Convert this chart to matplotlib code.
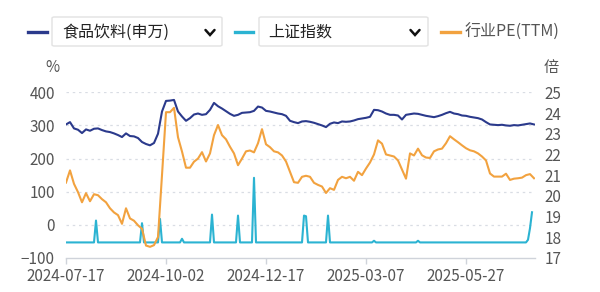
import matplotlib
matplotlib.use("Agg")
import matplotlib.pyplot as plt
from matplotlib.patches import FancyBboxPatch
from matplotlib.lines import Line2D

plt.rcParams['font.family'] = ['Noto Sans CJK SC', 'DejaVu Sans']

# ---- data ----
tick_labels = ["2024-07-17", "2024-10-02", "2024-12-17", "2025-03-07", "2025-05-27"]
tick_index = [0, 25, 50, 75, 100]

# sampled every other trading day
food_bev = [303, 310, 291, 287, 277, 288, 284, 290, 291, 286,
            282, 280, 276, 271, 265, 276, 268, 267, 262, 250,
            244, 240, 247, 275, 342, 374, 375, 377, 342, 327,
            314, 322, 333, 336, 332, 334, 347, 368, 358, 351,
            343, 335, 329, 332, 338, 339, 340, 344, 357, 354,
            344, 342, 339, 336, 334, 329, 314, 310, 307, 312,
            313, 311, 308, 304, 300, 295, 305, 309, 307, 312,
            311, 312, 315, 319, 321, 323, 326, 347, 346, 342,
            336, 332, 332, 330, 318, 332, 334, 336, 335, 332,
            329, 327, 325, 328, 332, 337, 341, 336, 334, 330,
            329, 326, 324, 322, 318, 310, 303, 302, 301, 302,
            300, 299, 301, 300, 302, 304, 306, 303]

pe = [20.64, 21.23, 20.58, 20.18, 19.69, 20.13, 19.74, 20.08, 20.03, 19.84,
      19.69, 19.40, 19.20, 19.07, 18.65, 19.40, 18.91, 18.80, 18.58, 18.41,
      17.60, 17.54, 17.62, 18.01, 21.00, 24.04, 24.04, 24.25, 22.83, 22.14,
      21.36, 21.36, 21.65, 21.80, 22.11, 21.66, 22.05, 22.93, 23.42, 22.93,
      22.73, 22.37, 22.05, 21.48, 21.80, 22.15, 22.19, 22.10, 22.54, 23.22,
      22.49, 22.35, 22.15, 22.10, 21.95, 21.66, 21.16, 20.66, 20.63, 20.92,
      20.97, 20.92, 20.63, 20.53, 20.45, 20.14, 20.37, 20.29, 20.77, 20.92,
      20.85, 20.92, 20.73, 21.16, 21.00, 21.32, 21.61, 22.00, 22.68, 22.52,
      22.00, 21.95, 21.90, 21.71, 21.27, 20.83, 22.05, 21.95, 22.28, 21.96,
      21.85, 21.83, 22.15, 22.24, 22.28, 22.54, 22.88, 22.73, 22.59, 22.44,
      22.30, 22.20, 22.15, 22.05, 21.90, 21.71, 21.08, 20.93, 20.93, 20.93,
      21.07, 20.77, 20.83, 20.85, 20.88, 21.00, 21.05, 20.85]

# every trading day (twice the density of the two series above)
sse = [-53, -53, -53, -53, -53, -53, -53, -53, -53, -53,
       -53, -53, -53, -53, -53, 13, -53, -53, -53, -53,
       -53, -53, -53, -53, -53, -53, -53, -53, -53, -53,
       -53, -53, -53, -53, -53, -53, -53, -53, 5, -53,
       -53, -53, -53, -53, -53, -53, -53, 18, -53, -53,
       -53, -53, -53, -53, -53, -53, -53, -53, -42, -53,
       -53, -53, -53, -53, -53, -53, -53, -53, -53, -53,
       -53, -53, -53, 31, -53, -53, -53, -53, -53, -53,
       -53, -53, -53, -53, -53, -53, 28, -53, -53, -53,
       -53, -53, -53, -53, 142, -53, -53, -53, -53, -53,
       -53, -53, -53, -53, -53, -53, -53, -53, -53, -53,
       -53, -53, -53, -53, -53, -53, -53, -53, -53, 28,
       26, -53, -53, -53, -53, -53, -53, -53, -53, -53,
       -53, 28, -53, -53, -53, -53, -53, -53, -53, -53,
       -53, -53, -53, -53, -53, -53, -53, -53, -53, -53,
       -53, -53, -53, -53, -48, -53, -53, -53, -53, -53,
       -53, -53, -53, -53, -53, -53, -53, -53, -53, -53,
       -53, -53, -53, -53, -53, -53, -48, -53, -53, -53,
       -53, -53, -53, -53, -53, -53, -53, -53, -53, -53,
       -53, -53, -53, -53, -53, -53, -53, -53, -53, -53,
       -53, -53, -53, -53, -53, -53, -53, -53, -53, -53,
       -53, -53, -53, -53, -53, -53, -53, -53, -53, -53,
       -53, -53, -53, -53, -53, -53, -53, -53, -53, -53,
       -53, -45, -10, 38]

left_ticks = [-100, 0, 100, 200, 300, 400]
right_ticks = [17, 18, 19, 20, 21, 22, 23, 24, 25]

names = ["食品饮料(申万)", "上证指数", "行业PE(TTM)"]
NAVY = "#2b3a8c"
CYAN = "#2bb3d2"
ORANGE = "#f2a23f"
GREY = "#555555"

W, H = 600, 292
fig = plt.figure(figsize=(6.0, 2.92), dpi=100)
fig.patch.set_facecolor("white")


def fx(x):
    return x / W


def fy(y):
    return 1 - y / H


ax = fig.add_axes([fx(66), fy(258), (535 - 66) / W, (258 - 92.3) / H])
ax2 = ax.twinx()

x = list(range(len(food_bev)))
x_daily = [j / 2 for j in range(len(sse))]
ax.plot(x, food_bev, color=NAVY, lw=1.5, solid_joinstyle="round", zorder=3)
ax.plot(x_daily, sse, color=CYAN, lw=1.5, solid_joinstyle="round", zorder=2)
ax2.plot(x, pe, color=ORANGE, lw=1.5, solid_joinstyle="round", zorder=3)

ax.set_xlim(0, 117.25)
ax.set_ylim(-100, 400)
ax2.set_ylim(17, 25)
ax.set_yticks(left_ticks)
ax2.set_yticks(right_ticks)
ax.set_xticks(tick_index)
ax.set_xticklabels(tick_labels)

for a in (ax, ax2):
    for s in ("top", "right", "left"):
        a.spines[s].set_visible(False)
ax2.spines["bottom"].set_visible(False)
ax.spines["bottom"].set_color("#cfd3da")
ax.spines["bottom"].set_linewidth(1.0)

ax.tick_params(axis="y", length=0, pad=8, labelsize=11, labelcolor=GREY)
ax2.tick_params(axis="y", length=0, pad=7, labelsize=11, labelcolor=GREY)
ax.tick_params(axis="x", length=4, width=1.0, color="#cfd3da", pad=3,
               labelsize=11, labelcolor=GREY)

for v in left_ticks[1:]:
    ax.axhline(v, color="#d9dde4", lw=0.9, ls=(0, (2, 3)), zorder=0)

fig.text(fx(52.5), fy(67), "%", ha="center", va="center", fontsize=11, color=GREY)
fig.text(fx(551), fy(67.5), "倍", ha="center", va="center", fontsize=11, color=GREY)

# ---- legend ----
def legend_line(x0, x1, y, color):
    fig.add_artist(Line2D([fx(x0), fx(x1)], [fy(y), fy(y)], color=color, lw=2.4,
                          transform=fig.transFigure))


def box(x0, x1, y0, y1):
    p = FancyBboxPatch((fx(x0), fy(y1)), fx(x1 - x0), (y1 - y0) / H,
                       boxstyle="round,pad=0,rounding_size=0.004",
                       transform=fig.transFigure, facecolor="white",
                       edgecolor="#e2e2e2", lw=1.0)
    fig.add_artist(p)


def chevron(xc, yc):
    fig.add_artist(Line2D([fx(xc - 4.5), fx(xc), fx(xc + 4.5)],
                          [fy(yc - 2.5), fy(yc + 2.5), fy(yc - 2.5)],
                          color="#111111", lw=1.8, solid_capstyle="round",
                          solid_joinstyle="miter", transform=fig.transFigure))


legend_line(28, 47, 32, NAVY)
box(52, 222, 17, 46)
fig.text(fx(62), fy(32), names[0], ha="left", va="center", fontsize=11.5, color="#222222")
chevron(210, 32.5)

legend_line(235, 253, 32, CYAN)
box(259, 428, 17, 46)
fig.text(fx(268), fy(32), names[1], ha="left", va="center", fontsize=11.5, color="#222222")
chevron(415, 32.5)

legend_line(441, 460, 32, ORANGE)
fig.text(fx(465), fy(32), names[2], ha="left", va="center", fontsize=11.5, color=GREY)

fig.savefig("out.png", dpi=100, facecolor="white")
